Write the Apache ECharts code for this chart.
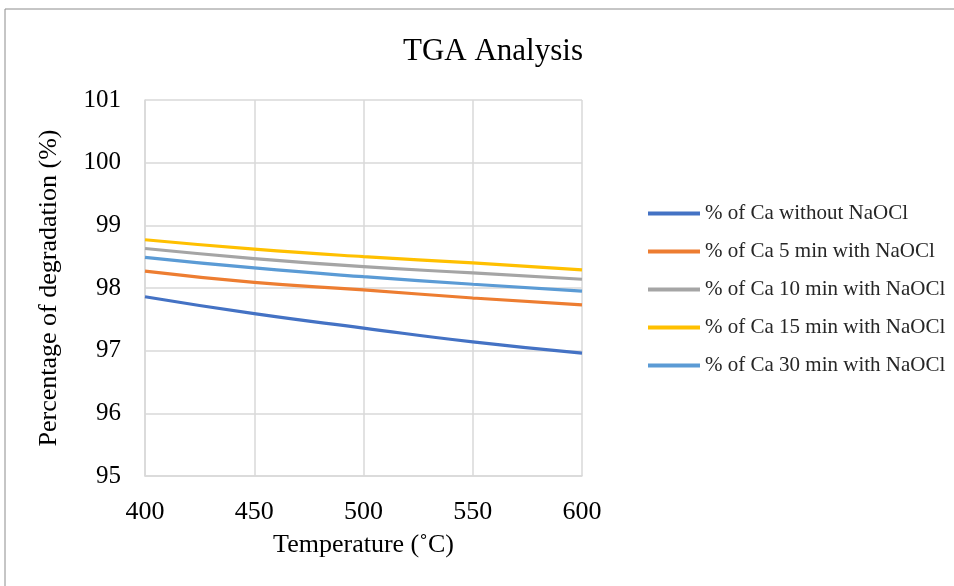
<!DOCTYPE html>
<html>
<head>
<meta charset="utf-8">
<script src="https://cdn.jsdelivr.net/npm/echarts@6/dist/echarts.min.js"></script>
<style>
  html, body { margin: 0; padding: 0; background: #fff; }
  #chart { width: 954px; height: 586px; }
</style>
</head>
<body>
<div id="chart"></div>
<script>
// temperatures (°C)
var temps = [400, 450, 500, 550, 600];
// % of mass remaining
var caWithout = [97.86, 97.59, 97.36, 97.14, 96.96];
var ca5min = [98.27, 98.09, 97.97, 97.84, 97.73];
var ca10min = [98.63, 98.47, 98.34, 98.24, 98.14];
var ca15min = [98.77, 98.62, 98.50, 98.40, 98.29];
var ca30min = [98.49, 98.32, 98.18, 98.06, 97.95];

var names = [
  '% of Ca without NaOCl',
  '% of Ca 5 min with NaOCl',
  '% of Ca 10 min with NaOCl',
  '% of Ca 15 min with NaOCl',
  '% of Ca 30 min with NaOCl'
];
var colors = ['#4472C4', '#ED7D31', '#A5A5A5', '#FFC000', '#5B9BD5'];
var values = [caWithout, ca5min, ca10min, ca15min, ca30min];

function pairs(v) {
  return temps.map(function (t, i) { return [t, v[i]]; });
}

var font = '"Liberation Serif", "Times New Roman", serif';

var myChart = echarts.init(document.getElementById('chart'));
var option = {
  backgroundColor: '#fff',
  color: colors,
  title: {
    text: 'TGA Analysis',
    left: 398,
    top: 31,
    textStyle: { fontFamily: font, fontSize: 31, fontWeight: 'normal', color: '#000' }
  },
  graphic: [{
    type: 'rect',
    shape: { x: 5, y: 9, width: 1000, height: 700 },
    style: { fill: 'none', stroke: '#8c8c8c', lineWidth: 1 },
    silent: true
  }],
  legend: {
    orient: 'vertical',
    left: 643,
    top: 198,
    itemWidth: 52,
    itemHeight: 4,
    itemGap: 17,
    icon: 'rect',
    data: names,
    textStyle: { fontFamily: font, fontSize: 21, color: '#262626', lineHeight: 21 }
  },
  grid: {
    left: 145,
    right: 372,
    top: 100,
    bottom: 110
  },
  xAxis: {
    type: 'value',
    min: 400,
    max: 600,
    interval: 50,
    name: 'Temperature (˚C)',
    nameLocation: 'middle',
    nameGap: 56,
    nameTextStyle: { fontFamily: font, fontSize: 26, color: '#000' },
    axisLine: { lineStyle: { color: '#d9d9d9', width: 1.5 } },
    axisTick: { show: false },
    axisLabel: { fontFamily: font, fontSize: 26, color: '#000', margin: 23 },
    splitLine: { show: true, lineStyle: { color: '#d9d9d9', width: 1.5 } }
  },
  yAxis: {
    type: 'value',
    min: 95,
    max: 101,
    interval: 1,
    name: 'Percentage of degradation (%)',
    nameLocation: 'middle',
    nameGap: 83,
    nameTextStyle: { fontFamily: font, fontSize: 26, color: '#000' },
    axisLine: { show: true, lineStyle: { color: '#d9d9d9', width: 1.5 } },
    axisTick: { show: false },
    axisLabel: { fontFamily: font, fontSize: 25, color: '#000', margin: 24 },
    splitLine: { show: true, lineStyle: { color: '#d9d9d9', width: 1.5 } }
  },
  series: names.map(function (n, i) {
    return {
      name: n,
      type: 'line',
      data: pairs(values[i]),
      smooth: true,
      showSymbol: false,
      lineStyle: { width: 3.2, color: colors[i] },
      itemStyle: { color: colors[i] }
    };
  })
};
myChart.setOption(option);
</script>
</body>
</html>
